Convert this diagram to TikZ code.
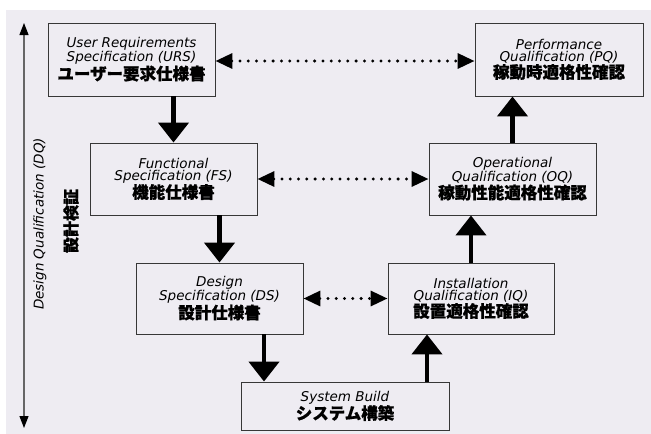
\documentclass[tikz,border=0pt]{standalone}
\usepackage{fontspec}
\setmainfont{DejaVu Sans}
\newfontfamily\cjk{Noto Sans CJK JP}[BoldFeatures={FakeBold=0.8}]
\usetikzlibrary{arrows.meta,calc}
\definecolor{bg}{RGB}{238,236,242}
\definecolor{edge}{RGB}{55,55,55}
\newcommand{\en}[1]{{\itshape\fontsize{13.5}{18}\selectfont #1}}
\newcommand{\jp}[1]{{\cjk\bfseries\fontsize{16.5}{20}\selectfont #1}}
\begin{document}
\begin{tikzpicture}[x=1pt,y=-1pt,
  box/.style={draw=edge,line width=0.9pt,fill=bg,align=center,inner sep=0pt},
  bigarrow/.style={line width=4.5pt,-{Triangle[width=30pt,length=20pt]}},
  dotarrow/.style={line width=3.3pt,line cap=round,dash pattern=on 0pt off 8.3pt,
     {Triangle[width=15pt,length=17pt]}-{Triangle[width=15pt,length=17pt]}},
  axisarrow/.style={draw=gray!80!black,line width=1.2pt,
     {Triangle[width=9pt,length=12pt,color=black]}-{Triangle[width=9pt,length=12pt,color=black]}}
]
\useasboundingbox (0,0) rectangle (651,434);
\fill[white] (0,0) rectangle (651,434);
\fill[bg] (6,10) rectangle (651,434);

\node[box,minimum width=167pt,minimum height=73pt] (URS) at (131.5,59.5)
  {\en{User Requirements}\\\en{Specification (URS)}\\\jp{ユーザー要求仕様書}};
\node[box,minimum width=168pt,minimum height=73pt] (PQ) at (559,59.5)
  {\en{Performance}\\\en{Qualification (PQ)}\\\jp{稼動時適格性確認}};
\node[box,minimum width=167pt,minimum height=72pt] (FS) at (173.5,179)
  {\en{Functional}\\\en{Specification (FS)}\\\jp{機能仕様書}};
\node[box,minimum width=167pt,minimum height=72pt] (OQ) at (512.5,179)
  {\en{Operational}\\\en{Qualification (OQ)}\\\jp{稼動性能適格性確認}};
\node[box,minimum width=167pt,minimum height=71pt] (DS) at (219.5,298.5)
  {\en{Design}\\\en{Specification (DS)}\\\jp{設計仕様書}};
\node[box,minimum width=166pt,minimum height=71pt] (IQ) at (471,298.5)
  {\en{Installation}\\\en{Qualification (IQ)}\\\jp{設置適格性確認}};
\node[box,minimum width=208pt,minimum height=48pt] (SB) at (345,406)
  {\en{System Build}\\\jp{システム構築}};

\coordinate (ds1) at ($(DS.south)+(44.5,0)$);
\coordinate (iq1) at ($(IQ.south)+(-44,0)$);

\draw[bigarrow] (URS.south -| FS.north) -- (FS.north);
\draw[bigarrow] (FS.south -| DS.north) -- (DS.north);
\draw[bigarrow] (ds1) -- (ds1 |- SB.north);
\draw[bigarrow] (iq1 |- SB.north) -- (iq1);
\draw[bigarrow] (IQ.north) -- (IQ.north |- OQ.south);
\draw[bigarrow] (OQ.north) -- (OQ.north |- PQ.south);

\draw[dotarrow] ($(URS.east)+(0,1.5)$) -- ($(PQ.west)+(0,1.5)$);
\draw[dotarrow] (FS.east) -- (OQ.west);
\draw[dotarrow] (DS.east) -- (IQ.west);

\coordinate (axtop) at (24,23);
\coordinate (axbot) at (24,428);
\draw[axisarrow] (axbot) -- (axtop);
\node[rotate=90] (dq) at (40,224) {\itshape\fontsize{13.5}{16}\selectfont Design Qualification (DQ)};
\node[rotate=90] (dqjp) at (71,221) {\cjk\bfseries\fontsize{16}{16}\selectfont 設計検証};
\end{tikzpicture}
\end{document}
